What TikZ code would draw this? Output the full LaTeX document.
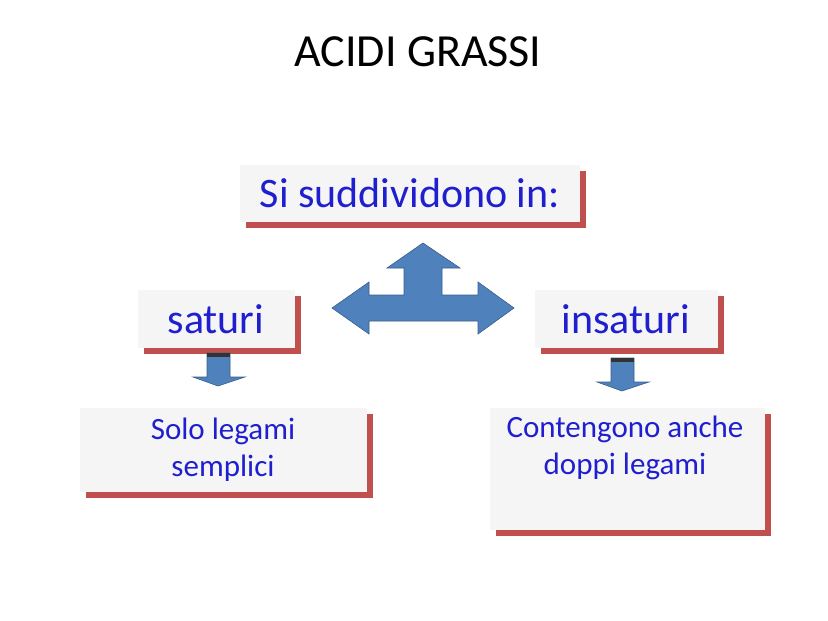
\documentclass[tikz,border=0pt]{standalone}
\usepackage{fontspec}
\setmainfont{Carlito}
\usetikzlibrary{shadows}
\definecolor{shadowred}{HTML}{C0504D}
\definecolor{boxgray}{HTML}{F5F5F5}
\definecolor{textblue}{HTML}{1F1FCF}
\definecolor{arrowblue}{HTML}{4F81BD}
\definecolor{arrowline}{HTML}{385D8A}

\begin{document}
\begin{tikzpicture}[
       x=1pt, y=-1pt,
       casella/.style={
         fill=boxgray,
         text=textblue,
         inner sep=0pt,
         drop shadow={shadow xshift=6pt, shadow yshift=-6pt, fill=shadowred, opacity=1}
       },
       freccia/.style={
         fill=arrowblue,
         draw=arrowline,
         line width=0.6pt
       }
     ]
\useasboundingbox (0,0) rectangle (828,621);
\node[font=\fontsize{46}{52}\selectfont] (titolo) at (418,52) {ACIDI GRASSI};

\node[casella,minimum width=340pt,minimum height=57pt,font=\fontsize{42}{48}\selectfont] (classi) at (410,193) {Si suddividono in:};
\node[casella,minimum width=157pt,minimum height=58pt,font=\fontsize{42}{48}\selectfont] (saturi) at (216,319) {saturi};
\node[casella,minimum width=183pt,minimum height=58pt,font=\fontsize{42}{48}\selectfont] (insaturi) at (626,319) {insaturi};
\node[casella,minimum width=287pt,minimum height=84pt,align=center,font=\fontsize{31}{37}\selectfont] (semplici) at (223,450) {Solo legami\\semplici};
\node[casella,minimum width=275pt,minimum height=122pt] (doppi) at (627,469) {};
\node[anchor=north,text=textblue,align=center,font=\fontsize{31}{37}\selectfont] (doppitesto) at (625,412) {Contengono anche\\doppi legami};

% freccia a tre vie
\draw[freccia] (423,243) -- (460,268) -- (442,268) -- (442,295) -- (478,295) -- (478,282)
  -- (514,308) -- (478,334) -- (478,321) -- (369,321) -- (369,334) -- (332,308)
  -- (369,282) -- (369,295) -- (404,295) -- (404,268) -- (387,268) -- cycle;

% frecce in basso
\foreach \cx/\cy in {218/353, 622/358} {
  \draw[freccia] (\cx-11,\cy) -- (\cx+12,\cy) -- (\cx+12,\cy+24) -- (\cx+27,\cy+24)
    -- (\cx,\cy+33) -- (\cx-25,\cy+24) -- (\cx-11,\cy+24) -- cycle;
  \fill[black!80] (\cx-11,\cy) rectangle (\cx+12,\cy+4);
}
\end{tikzpicture}
\end{document}
